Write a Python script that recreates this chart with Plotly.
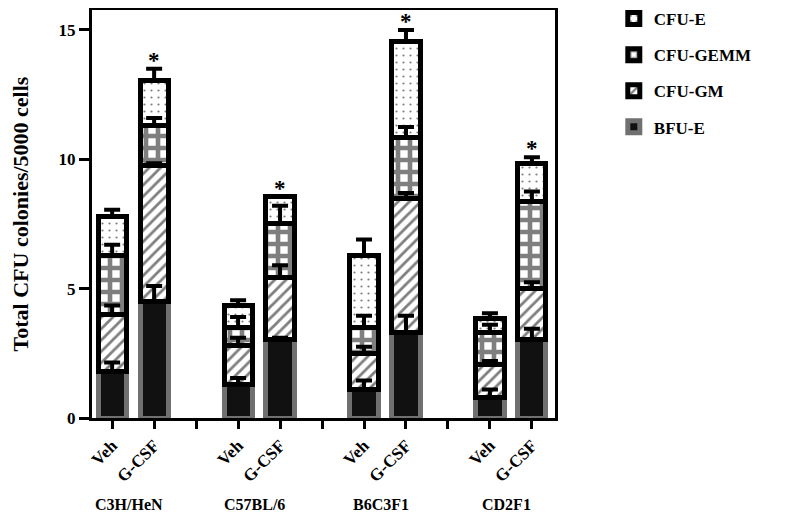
import numpy as np
import plotly.graph_objects as go

# ---- data ----
strains = ["C3H/HeN", "C57BL/6", "B6C3F1", "CD2F1"]
conditions = ["Veh", "G-CSF", "Veh", "G-CSF", "Veh", "G-CSF", "Veh", "G-CSF"]
xpos = [0, 1, 3, 4, 6, 7, 9, 10]
gap_ticks = [2, 5, 8]

bfu_e = [1.8, 4.5, 1.3, 3.05, 1.1, 3.3, 0.8, 3.05]
cfu_gm = [2.2, 5.25, 1.5, 2.4, 1.4, 5.2, 1.25, 1.95]
cfu_gemm = [2.3, 1.55, 0.7, 2.05, 1.0, 2.35, 1.25, 3.35]
cfu_e = [1.5, 1.75, 0.85, 1.05, 2.8, 3.7, 0.55, 1.48]

err_bfu_e = [0.35, 0.6, 0.25, 0.05, 0.35, 0.65, 0.3, 0.4]
err_cfu_gm = [0.35, 0.1, 0.3, 0.45, 0.25, 0.2, 0.15, 0.25]
err_cfu_gemm = [0.4, 0.3, 0.4, 0.7, 0.45, 0.4, 0.3, 0.4]
err_cfu_e = [0.25, 0.45, 0.2, 0.0, 0.6, 0.45, 0.2, 0.25]

significant = [False, True, False, True, False, True, False, True]

FONT = "Liberation Serif"
BAR_W = 0.67
LW = 5

series = [
    ("BFU-E", bfu_e, err_bfu_e, 4,
     dict(color="#111111", line=dict(color="#707070", width=LW))),
    ("CFU-GM", cfu_gm, err_cfu_gm, 3,
     dict(color="white", line=dict(color="black", width=LW),
          pattern=dict(shape="/", fgcolor="black", bgcolor="white", size=8, solidity=0.35))),
    ("CFU-GEMM", cfu_gemm, err_cfu_gemm, 2,
     dict(color="white", line=dict(color="black", width=LW),
          pattern=dict(shape="+", fgcolor="black", bgcolor="white", size=12, solidity=0.62))),
    ("CFU-E", cfu_e, err_cfu_e, 1,
     dict(color="white", line=dict(color="black", width=LW),
          pattern=dict(shape=".", fgcolor="black", bgcolor="white", size=7, solidity=0.08))),
]

fig = go.Figure()
for name, vals, errs, rank, marker in series:
    fig.add_trace(go.Bar(x=xpos, y=vals, name=name, width=BAR_W, marker=marker,
                         legendgroup=name, legendrank=rank, hoverinfo="skip"))

# error bars drawn on top of all bars
cum = np.zeros(len(xpos))
for name, vals, errs, rank, marker in series:
    cum = cum + np.array(vals)
    fig.add_trace(go.Scatter(
        x=xpos, y=cum, mode="markers",
        marker=dict(size=1, color="rgba(0,0,0,0)"),
        error_y=dict(type="data", array=errs, arrayminus=[0] * len(errs), symmetric=False,
                     color="black", thickness=4, width=8),
        showlegend=False, hoverinfo="skip"))

tops = cum + np.array(err_cfu_e)
for x, t, s in zip(xpos, tops, significant):
    if s:
        fig.add_annotation(x=x, y=t, xref="x", yref="y", text="*", showarrow=False,
                           yanchor="bottom", yshift=-6,
                           font=dict(family=FONT, size=23, color="black"))

for i, st in enumerate(strains):
    fig.add_annotation(x=(xpos[2 * i] + xpos[2 * i + 1]) / 2 - 0.1, y=0, xref="x", yref="paper",
                       text=st, showarrow=False, yanchor="middle", yshift=-86,
                       font=dict(family=FONT, size=16, color="black", weight="bold"))

fig.update_layout(
    width=792, height=506,
    margin=dict(l=84, r=245, t=2, b=96, autoexpand=False),
    barmode="stack",
    plot_bgcolor="white", paper_bgcolor="white",
    font=dict(family=FONT, size=15, color="black", weight="bold"),
    legend=dict(x=1.127, y=1.022, xanchor="left", yanchor="top",
                traceorder="grouped", tracegroupgap=11,
                font=dict(family=FONT, size=17, color="black", weight="bold")),
    showlegend=True,
)
fig.update_xaxes(
    range=[-0.48, 10.55], automargin=False,
    tickvals=xpos + gap_ticks, ticktext=conditions + ["", "", ""],
    tickangle=-45, ticks="outside", ticklen=8, tickwidth=3, tickcolor="black",
    showline=True, linewidth=3, linecolor="black", mirror=True,
    showgrid=False, zeroline=False,
    tickfont=dict(family=FONT, size=17, color="black", weight="bold"),
)
fig.update_yaxes(
    range=[0, 15.77], automargin=False,
    tickvals=[0, 5, 10, 15],
    ticks="outside", ticklen=10, tickwidth=3, tickcolor="black",
    showline=True, linewidth=3, linecolor="black", mirror=True,
    showgrid=False, zeroline=False,
    tickfont=dict(family=FONT, size=17, color="black", weight="bold"),
    title=dict(text="Total CFU colonies/5000 cells", standoff=40,
               font=dict(family=FONT, size=22, color="black", weight="bold")),
)

fig.write_html("out.html")
